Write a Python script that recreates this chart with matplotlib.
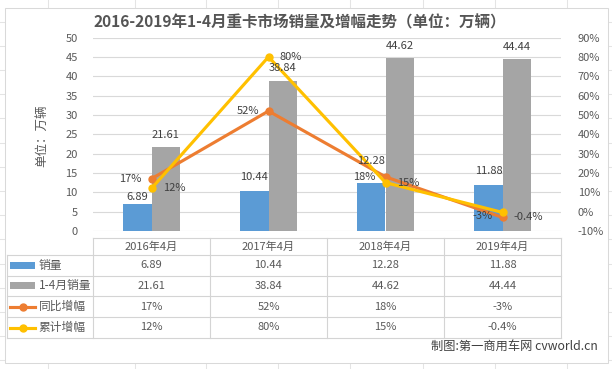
import matplotlib
matplotlib.use('Agg')
import matplotlib.pyplot as plt
from matplotlib.patches import Rectangle
import numpy as np

plt.rcParams['font.family'] = ['Noto Sans CJK SC', 'DejaVu Sans']

# ---------------- data ----------------
categories = ['2016年4月', '2017年4月', '2018年4月', '2019年4月']
sales_april = [6.89, 10.44, 12.28, 11.88]
sales_jan_apr = [21.61, 38.84, 44.62, 44.44]
yoy_growth = [17, 52, 18, -3]
cum_growth = [12, 80, 15, -0.4]
yoy_labels = ['17%', '52%', '18%', '-3%']
cum_labels = ['12%', '80%', '15%', '-0.4%']
series_names = ['销量', '1-4月销量', '同比增幅', '累计增幅']
left_ticks = list(range(0, 55, 5))
right_ticks = list(range(-10, 100, 10))
title = '2016-2019年1-4月重卡市场销量及增幅走势（单位：万辆）'
ylabel = '单位：万辆'
footer = '制图:第一商用车网 cvworld.cn'

# ---------------- style ----------------
BLUE = '#5B9BD5'
GRAY = '#A5A5A5'
ORANGE = '#ED7D31'
YELLOW = '#FFC000'
TXT = '#595959'
GRID = '#D9D9D9'

W, H = 612, 369
fig = plt.figure(figsize=(W / 100, H / 100), dpi=100)

# overlay in pixel coordinates
ov = fig.add_axes([0, 0, 1, 1], zorder=0)
ov.set_xlim(0, W)
ov.set_ylim(H, 0)
ov.axis('off')

# spreadsheet gridlines behind the chart
for x in [48, 135, 206, 278, 350, 423, 495, 567]:
    ov.plot([x, x], [0, H], color='#E4E4E4', lw=0.75, zorder=0)
for y in np.arange(21.5, H, 24.2):
    ov.plot([0, W], [y, y], color='#E4E4E4', lw=0.75, zorder=0)

# chart area
ov.add_patch(Rectangle((5, 8), 603, 355, facecolor='white', edgecolor='#D9D9D9',
                       lw=0.75, zorder=1))

# title
ov.text(300, 22, title, ha='center', va='center', fontsize=11.2, fontweight='bold',
        color='#555555', zorder=3)
# y label
ov.text(42, 136, ylabel, ha='center', va='center', rotation=90, fontsize=9,
        color=TXT, zorder=3)

# ---------------- main axes ----------------
L, R, T, B = 93, 561, 37.5, 231
ax = fig.add_axes([L / W, 1 - B / H, (R - L) / W, (B - T) / H], zorder=2)
ax.set_facecolor('none')
x = np.arange(len(categories))
bw = 0.24
ax.bar(x - bw / 2, sales_april, width=bw, color=BLUE, zorder=2)
ax.bar(x + bw / 2, sales_jan_apr, width=bw, color=GRAY, zorder=2)
ax.set_xlim(-0.5, len(categories) - 0.5)
ax.set_ylim(0, 50)
ax.set_yticks(left_ticks)
ax.set_xticks([])
ax.grid(axis='y', color=GRID, lw=0.8, zorder=0)
ax.set_axisbelow(True)
for s in ax.spines.values():
    s.set_visible(False)
ax.tick_params(axis='y', length=0, pad=11, labelsize=8, labelcolor=TXT)

ax2 = ax.twinx()
ax2.set_ylim(-10, 90)
ax2.set_yticks(right_ticks)
ax2.set_yticklabels([f'{t}%' for t in right_ticks])
for s in ax2.spines.values():
    s.set_visible(False)
ax2.tick_params(axis='y', length=0, pad=12, labelsize=8, labelcolor=TXT)
ax2.plot(x, yoy_growth, color=ORANGE, lw=2.25, marker='o', ms=5, zorder=3)
ax2.plot(x, cum_growth, color=YELLOW, lw=2.25, marker='o', ms=5, zorder=4)

# bar value labels (drawn in the top axes so lines do not hide them)
blue_off = [5, 9.5, 16, 10]
for i, v in enumerate(sales_april):
    ax2.annotate(f'{v:.2f}', (x[i] - bw / 2, v), xycoords=ax.transData,
                 xytext=(0, blue_off[i]), textcoords='offset points',
                 ha='center', va='center', fontsize=8, color='#404040', zorder=6)
for i, v in enumerate(sales_jan_apr):
    ax2.annotate(f'{v:.2f}', (x[i] + bw / 2, v), xycoords=ax.transData,
                 xytext=(0, 9), textcoords='offset points',
                 ha='center', va='center', fontsize=8, color='#404040', zorder=6)
for i, v in enumerate(yoy_growth):
    ax2.annotate(yoy_labels[i], (x[i], v), xytext=(-7, 1 if i == 3 else 0),
                 textcoords='offset points', ha='right', va='center',
                 fontsize=8, color='#404040', zorder=6)
for i, v in enumerate(cum_growth):
    ax2.annotate(cum_labels[i], (x[i], v), xytext=(8, -3.5 if i == 3 else 0),
                 textcoords='offset points', ha='left', va='center',
                 fontsize=8, color='#404040', zorder=6)

# ---------------- data table ----------------
col_w = (R - L) / len(categories)
tl, tt, th = 6.7, 238, 255
rows_y = [255, 275.5, 296.3, 317, 338]
lc = '#D4D4D4'
ov.plot([L, R], [tt, tt], color=lc, lw=0.8, zorder=3)
for y in rows_y:
    ov.plot([tl, R], [y, y], color=lc, lw=0.8, zorder=3)
for k in range(len(categories) + 1):
    xx = L + k * col_w
    ov.plot([xx, xx], [tt, rows_y[-1]], color=lc, lw=0.8, zorder=3)
ov.plot([tl, tl], [rows_y[0], rows_y[-1]], color=lc, lw=0.8, zorder=3)

for k, c in enumerate(categories):
    ov.text(L + (k + 0.5) * col_w, (tt + th) / 2, c, ha='center', va='center',
            fontsize=8, color=TXT, zorder=4)

table_vals = [
    [f'{v:.2f}' for v in sales_april],
    [f'{v:.2f}' for v in sales_jan_apr],
    yoy_labels,
    cum_labels,
]
key_colors = [BLUE, GRAY, ORANGE, YELLOW]
for r in range(4):
    yc = (rows_y[r] + rows_y[r + 1]) / 2
    for k in range(len(categories)):
        ov.text(L + (k + 0.5) * col_w, yc, table_vals[r][k], ha='center',
                va='center', fontsize=8, color=TXT, zorder=4)
    if r < 2:
        ov.add_patch(Rectangle((10, yc - 3.5), 25, 7, facecolor=key_colors[r],
                               edgecolor='none', zorder=4))
    else:
        ov.plot([10, 35], [yc, yc], color=key_colors[r], lw=2.25, zorder=4)
        ov.plot([22.5], [yc], marker='o', ms=5, color=key_colors[r], zorder=5)
    ov.text(38.5, yc, series_names[r], ha='left', va='center', fontsize=8.5,
            color=TXT, zorder=4)

ov.text(598, 346, footer, ha='right', va='center', fontsize=8.8,
        color='#404040', zorder=4)

fig.savefig('out.png', dpi=100)
